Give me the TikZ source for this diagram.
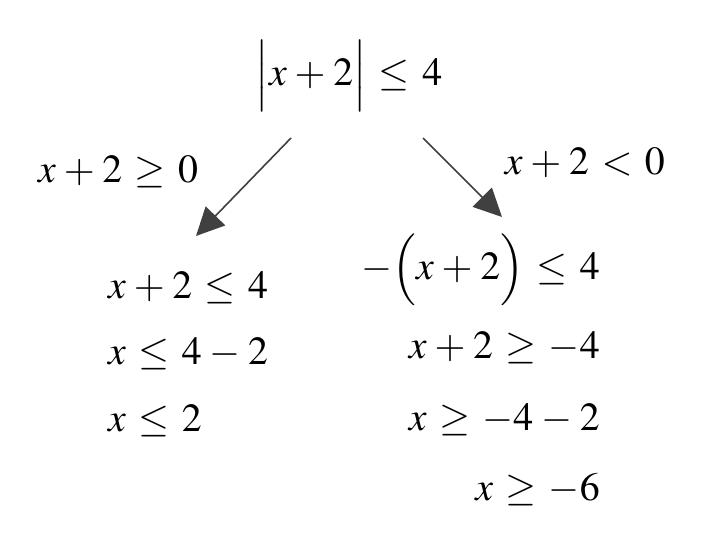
\documentclass[tikz,border=0pt]{standalone}
\usepackage{amsmath}
\usepackage{mathptmx}
\usepackage{tikz}
\usetikzlibrary{arrows.meta}
\begin{document}
\fontsize{40}{48}\selectfont
\thickmuskip=5.6mu
\medmuskip=3.5mu
\begin{tikzpicture}[x=1bp, y=-1bp, >={Triangle[length=28bp,width=27bp]},
	eq/.style={inner sep=0pt, font=\fontsize{40}{48}\selectfont},
	arr/.style={->, draw=black!75, fill=black!75, line width=1.6bp}]
	\useasboundingbox (0,0) rectangle (702,536);
	% top
	\node[eq, anchor=base] (top) at (349,86) {$\Bigl|x+2\Bigr|\leq 4$};
	\node[eq, anchor=base west] (casel) at (38,183) {$x+2\geq 0$};
	\node[eq, anchor=base east] (caser) at (665,175) {$x+2<0$};
	
	\coordinate (al) at (291,138);\coordinate (bl) at (196,236);
	\coordinate (ar) at (423,138);\coordinate (br) at (502,217);
	\draw[arr] (al)--(bl);
	\draw[arr] (ar)--(br);
	
	% left column
	\node[eq, anchor=base west] (l1) at (108,298) {$x+2\leq 4$};
	\node[eq, anchor=base west] (l2) at (108,364) {$x\leq 4-2$};
	\node[eq, anchor=base west] (l3) at (108,431) {$x\leq 2$};
	
	% right column
	\node[eq, anchor=base east] (r1) at (600,280) {$-\Bigl(x+2\Bigr)\leq 4$};
	\node[eq, anchor=base east] (r2) at (600,358) {$x+2\geq -4$};
	\node[eq, anchor=base east] (r3) at (600,430) {$x\geq -4-2$};
	\node[eq, anchor=base east] (r4) at (600,500) {$x\geq -6$};
\end{tikzpicture}
\end{document}
